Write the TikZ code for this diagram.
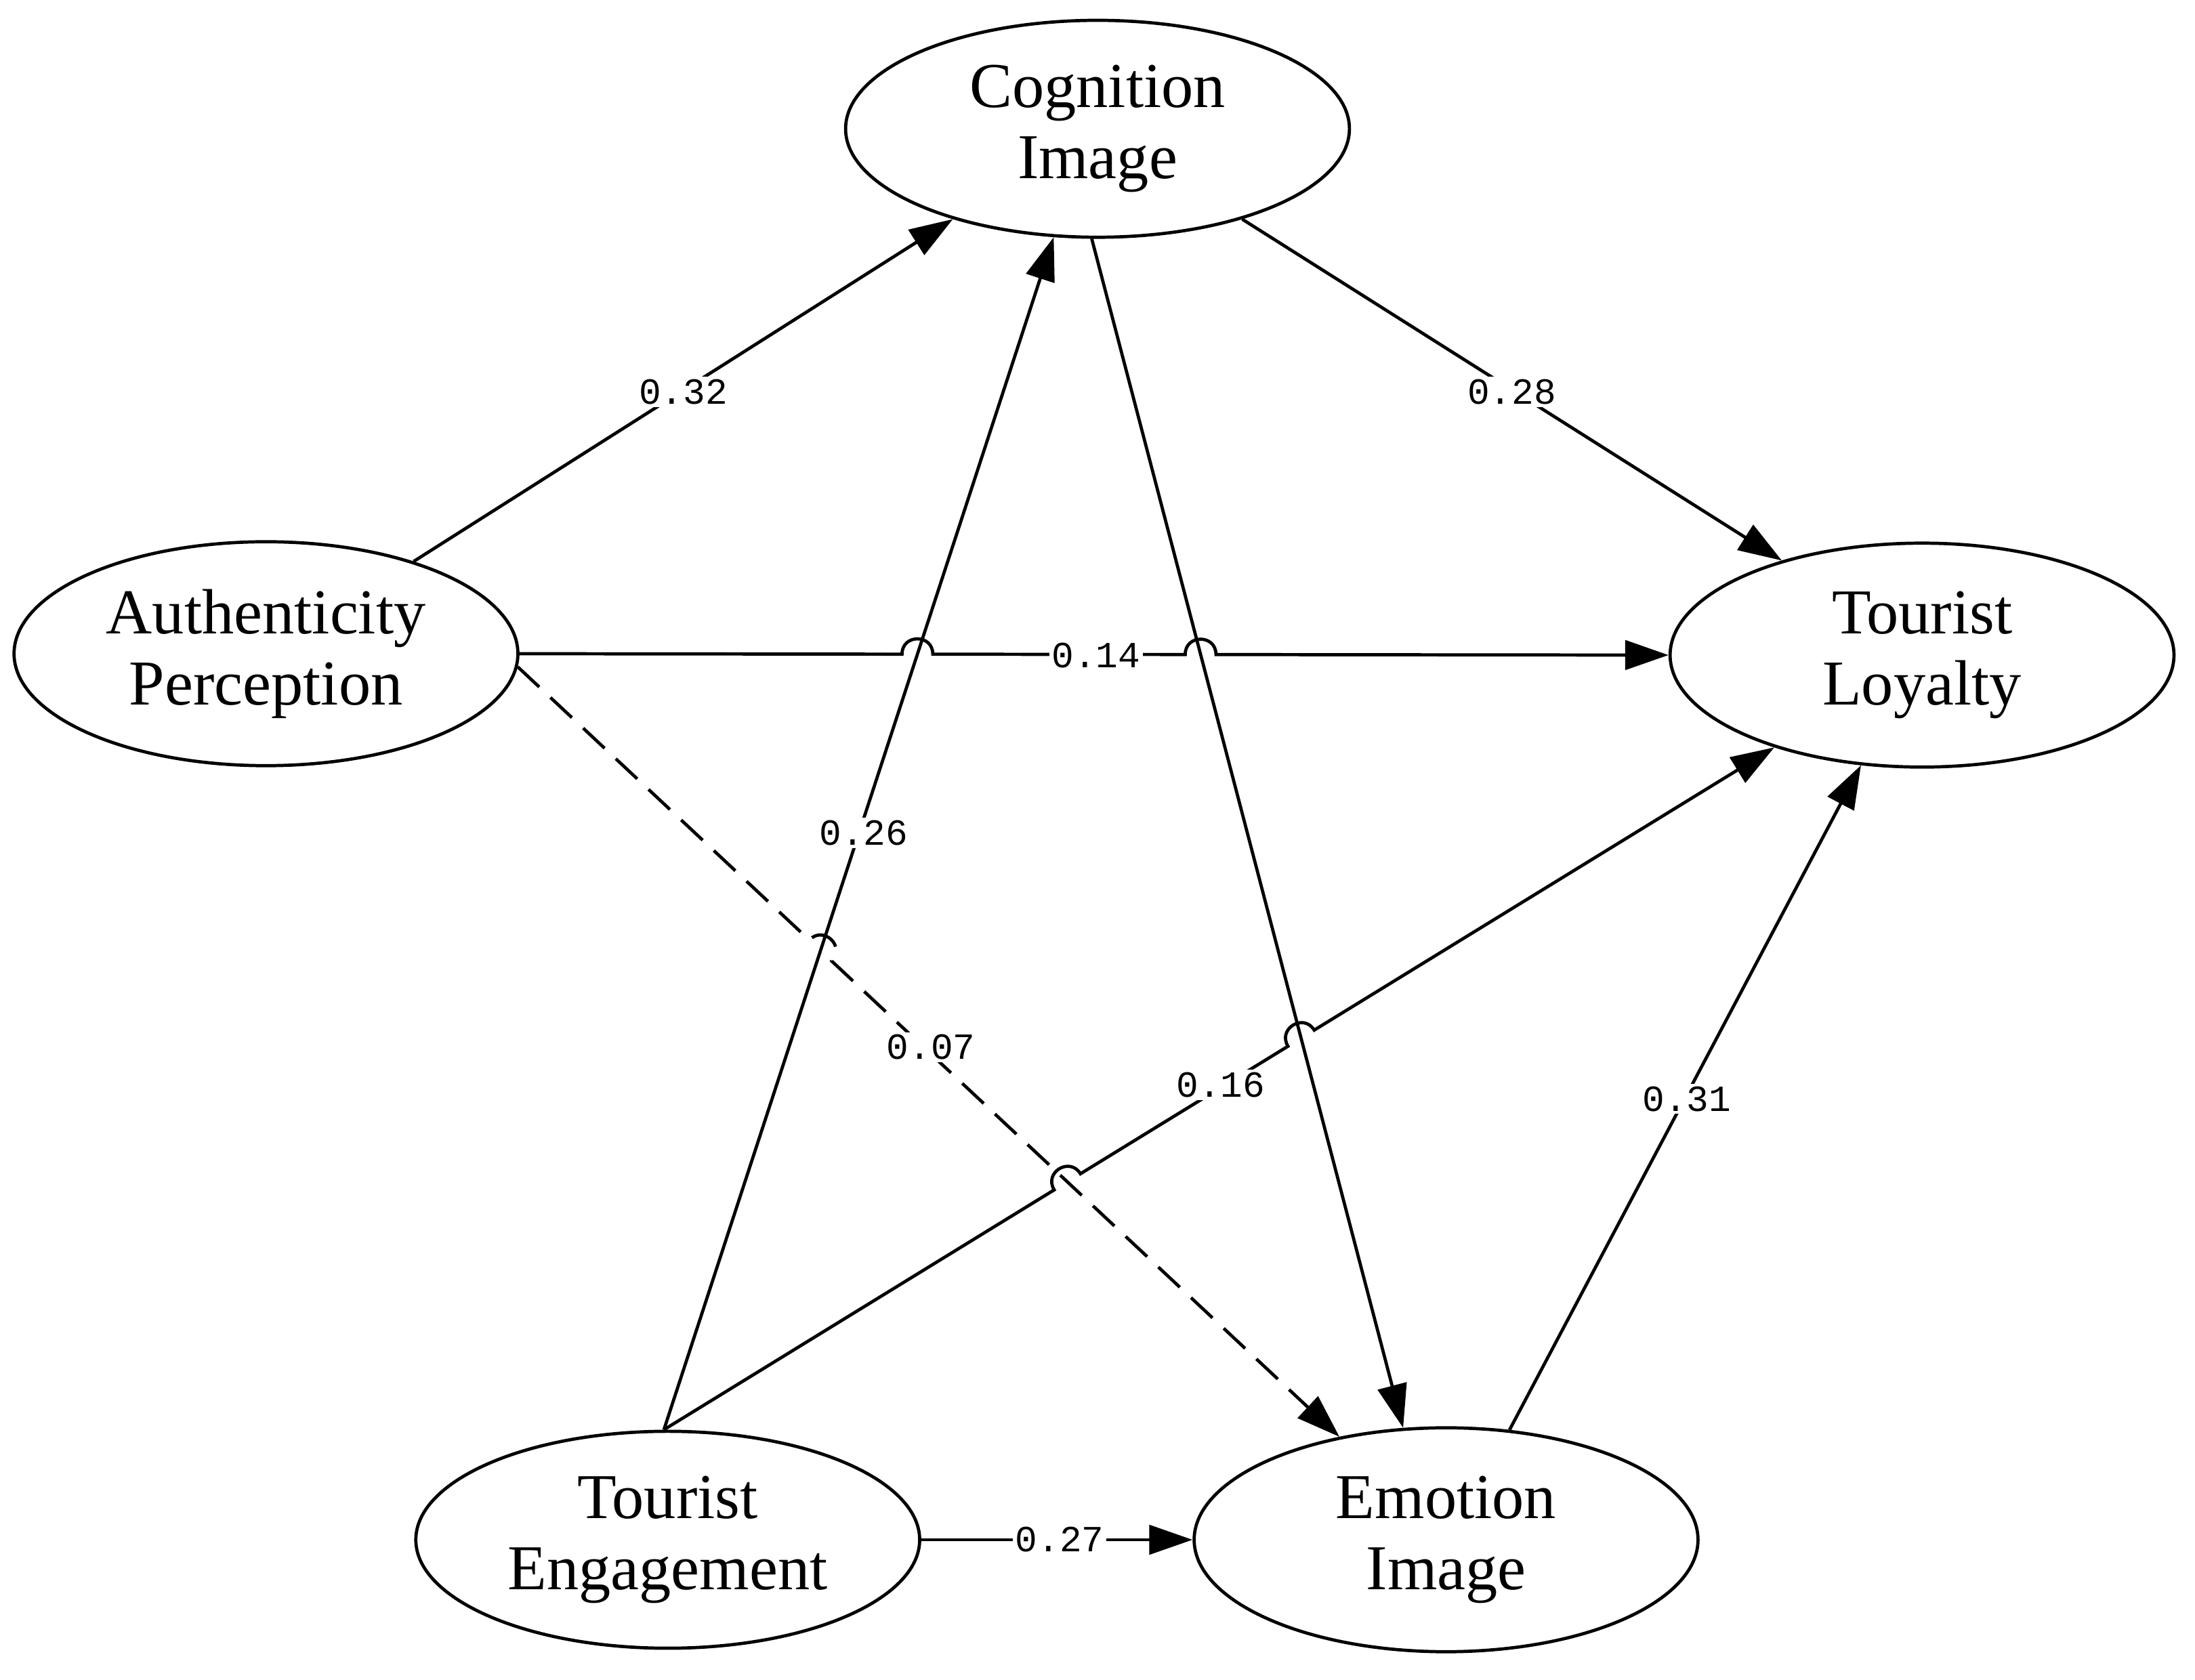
\documentclass[tikz,border=0pt]{standalone}
\usepackage{fontspec}
\setmainfont{Liberation Serif}
\newfontfamily\lblfont{Liberation Mono}
\usetikzlibrary{shapes.geometric,arrows.meta,calc,intersections}
\newcommand\mkhop[3]{%
 \coordinate (#1a) at ($(#1)!0.22cm!(#2)$);
 \coordinate (#1b) at ($(#1)!0.22cm!(#3)$);
 \coordinate (#1c) at ($(#1a)!1.33!90:(#1)$);
 \coordinate (#1d) at ($(#1b)!1.33!-90:(#1)$);}
\begin{document}
\begin{tikzpicture}[x=0.02cm,y=-0.02cm,
 lat/.style={ellipse,draw,line width=1.3pt,inner sep=0pt,minimum width=7.2cm,minimum height=3.1cm,align=center,font=\fontsize{26}{29}\selectfont},
 arr/.style={line width=1.3pt,-{Triangle[length=0.62cm,width=0.42cm]}},
 lbl/.style={fill=white,inner sep=1pt,font=\lblfont\fontsize{15}{17}\selectfont}]
\useasboundingbox (0,0) rectangle (1568,1200);
\node[lat] (cog) at (784,92) {Cognition\\Image};
\node[lat,minimum height=3.2cm] (auth) at (190,467) {Authenticity\\Perception};
\node[lat,minimum height=3.2cm] (loy) at (1373,468) {Tourist\\Loyalty};
\node[lat] (eng) at (477,1100) {Tourist\\Engagement};
\node[lat,minimum height=3.2cm] (emo) at (1033,1100) {Emotion\\Image};
\path[name path=ec] (eng.92) -- (cog.248);
\path[name path=ce] (cog.267) -- (emo.111);
\path[name path=al] (auth.east) -- (loy.west);
\path[name path=ae] (auth.-3) -- (emo.136);
\path[name path=el] (eng.92) -- (loy.212);
\path[name intersections={of=al and ec,by=xa}];
\path[name intersections={of=al and ce,by=xb}];
\path[name intersections={of=ae and ec,by=xc}];
\path[name intersections={of=el and ae,by=xd}];
\path[name intersections={of=el and ce,by=xe}];
\mkhop{xa}{auth.east}{loy.west}
\mkhop{xb}{auth.east}{loy.west}
\mkhop{xc}{auth.-3}{emo.136}
\mkhop{xd}{eng.92}{loy.212}
\mkhop{xe}{eng.92}{loy.212}
\draw[arr] (auth.32) -- (cog.212.5);
\draw[arr] (cog.328) -- (loy.146.6);
\draw[arr] (eng.92) -- (cog.248);
\draw[arr] (cog.267) -- (emo.111);
\draw[arr] (emo.60.6) -- (loy.241.7);
\draw[arr] (eng.east) -- (emo.west);
\draw[arr] (auth.east) -- (xaa) .. controls (xac) and (xad) .. (xab) -- (xba) .. controls (xbc) and (xbd) .. (xbb) -- (loy.west);
\draw[arr,dash pattern=on 0.42cm off 0.22cm] (auth.-3) -- (xca) .. controls (xcc) and (xcd) .. (xcb) -- (emo.136);
\draw[arr] (eng.92) -- (xda) .. controls (xdc) and (xdd) .. (xdb) -- (xea) .. controls (xec) and (xed) .. (xeb) -- (loy.212);
\node[lbl] (l1) at (488,280) {0.32};
\node[lbl] (l2) at (1080,280) {0.28};
\node[lbl] (l3) at (783,468) {0.14};
\node[lbl] (l4) at (617,595) {0.26};
\node[lbl] (l5) at (665,748) {0.07};
\node[lbl] (l6) at (872,775) {0.16};
\node[lbl] (l7) at (1205,785) {0.31};
\node[lbl] (l8) at (757,1100) {0.27};
\end{tikzpicture}
\end{document}
